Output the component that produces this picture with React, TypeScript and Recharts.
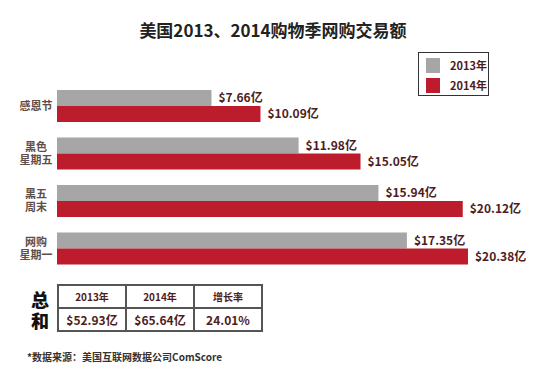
import React from "react";
import { BarChart, Bar, XAxis, YAxis, LabelList } from "recharts";

const categories = ["感恩节", "黑色\n星期五", "黑五\n周末", "网购\n星期一"];
const sales2013 = [7.66, 11.98, 15.94, 17.35];
const sales2014 = [10.09, 15.05, 20.12, 20.38];

const totalHeaders = ["2013年", "2014年", "增长率"];
const totalValues = ["$52.93亿", "$65.64亿", "24.01%"];

const GRAY = "#a6a6a6";
const RED = "#bd1c2c";
const LABEL = "#4e1c1c";
const FONT = "'Noto Sans CJK SC', 'Noto Sans', sans-serif";

const data = categories.map((name, i) => ({
  name,
  y2013: sales2013[i],
  y2014: sales2014[i],
}));

function CategoryTick({ x, y, payload }: any) {
  const lines = String(payload.value).split("\n");
  const lh = 13;
  const start = y - ((lines.length - 1) * lh) / 2;
  return (
    <g>
      {lines.map((l, i) => (
        <text
          key={i}
          x={x - 13}
          y={start + i * lh}
          dy="0.35em"
          textAnchor="middle"
          fill="#5e4e48"
          fontSize={11}
          fontWeight={700}
          fontFamily={FONT}
        >
          {l}
        </text>
      ))}
    </g>
  );
}

function LegendBox() {
  const items = [
    { label: "2013年", color: GRAY },
    { label: "2014年", color: RED },
  ];
  return (
    <div style={{ position: "absolute", left: 418, top: 52, width: 69, height: 42, border: "1.5px solid #333" }}>
      {items.map((it) => (
        <div key={it.label} style={{ display: "flex", alignItems: "center", height: 16, margin: "4px 0 0 7px" }}>
          <span style={{ width: 14, height: 15, background: it.color, display: "inline-block" }} />
          <span style={{ marginLeft: 10, fontSize: 11, fontWeight: 700, color: LABEL }}>{it.label}</span>
        </div>
      ))}
    </div>
  );
}

const fmt = (v: any) => `$${Number(v).toFixed(2)}亿`;

export default function App() {
  const cell: React.CSSProperties = {
    border: "2px solid #555",
    width: 66,
    height: 21,
    textAlign: "center",
    fontSize: 11,
    fontWeight: 700,
    color: LABEL,
    padding: 0,
  };
  const big: React.CSSProperties = {
    position: "absolute",
    left: 31,
    fontSize: 18,
    fontWeight: 900,
    color: "#111",
    lineHeight: "18px",
    height: 18,
  };
  return (
    <div style={{ position: "absolute", left: 0, top: 0, width: 550, height: 381, background: "#fff", fontFamily: FONT }}>
      <div style={{ position: "absolute", top: 17, left: 0, width: 546, textAlign: "center", fontSize: 17, fontWeight: 700, color: "#222" }}>
        美国2013、2014购物季网购交易额
      </div>
      <BarChart
        width={550}
        height={381}
        data={data}
        layout="vertical"
        margin={{ top: 82, right: 9, bottom: 109, left: 0 }}
        barGap={0}
      >
        <XAxis type="number" domain={[0, 24]} hide />
        <YAxis
          type="category"
          dataKey="name"
          width={57}
          axisLine={false}
          tickLine={false}
          interval={0}
          tick={<CategoryTick />}
        />
        <Bar dataKey="y2013" name="2013年" fill={GRAY} barSize={16} isAnimationActive={false}>
          <LabelList dataKey="y2013" position="right" offset={7} formatter={fmt} fill={LABEL} fontSize={12} fontWeight={700} fontFamily={FONT} />
        </Bar>
        <Bar dataKey="y2014" name="2014年" fill={RED} barSize={16} isAnimationActive={false}>
          <LabelList dataKey="y2014" position="right" offset={7} formatter={fmt} fill={LABEL} fontSize={12} fontWeight={700} fontFamily={FONT} />
        </Bar>
      </BarChart>
      <LegendBox />
      <div style={{ ...big, top: 290 }}>总</div>
      <div style={{ ...big, top: 311 }}>和</div>
      <table style={{ position: "absolute", left: 57, top: 284, borderCollapse: "collapse" }}>
        <tbody>
          <tr>
            {totalHeaders.map((h) => (
              <td key={h} style={{ ...cell, fontSize: 10 }}>{h}</td>
            ))}
          </tr>
          <tr>
            {totalValues.map((v) => (
              <td key={v} style={{ ...cell, fontSize: 12 }}>{v}</td>
            ))}
          </tr>
        </tbody>
      </table>
      <div style={{ position: "absolute", left: 27, top: 349, fontSize: 10, fontWeight: 700, color: "#333" }}>
        *数据来源：美国互联网数据公司ComScore
      </div>
    </div>
  );
}
